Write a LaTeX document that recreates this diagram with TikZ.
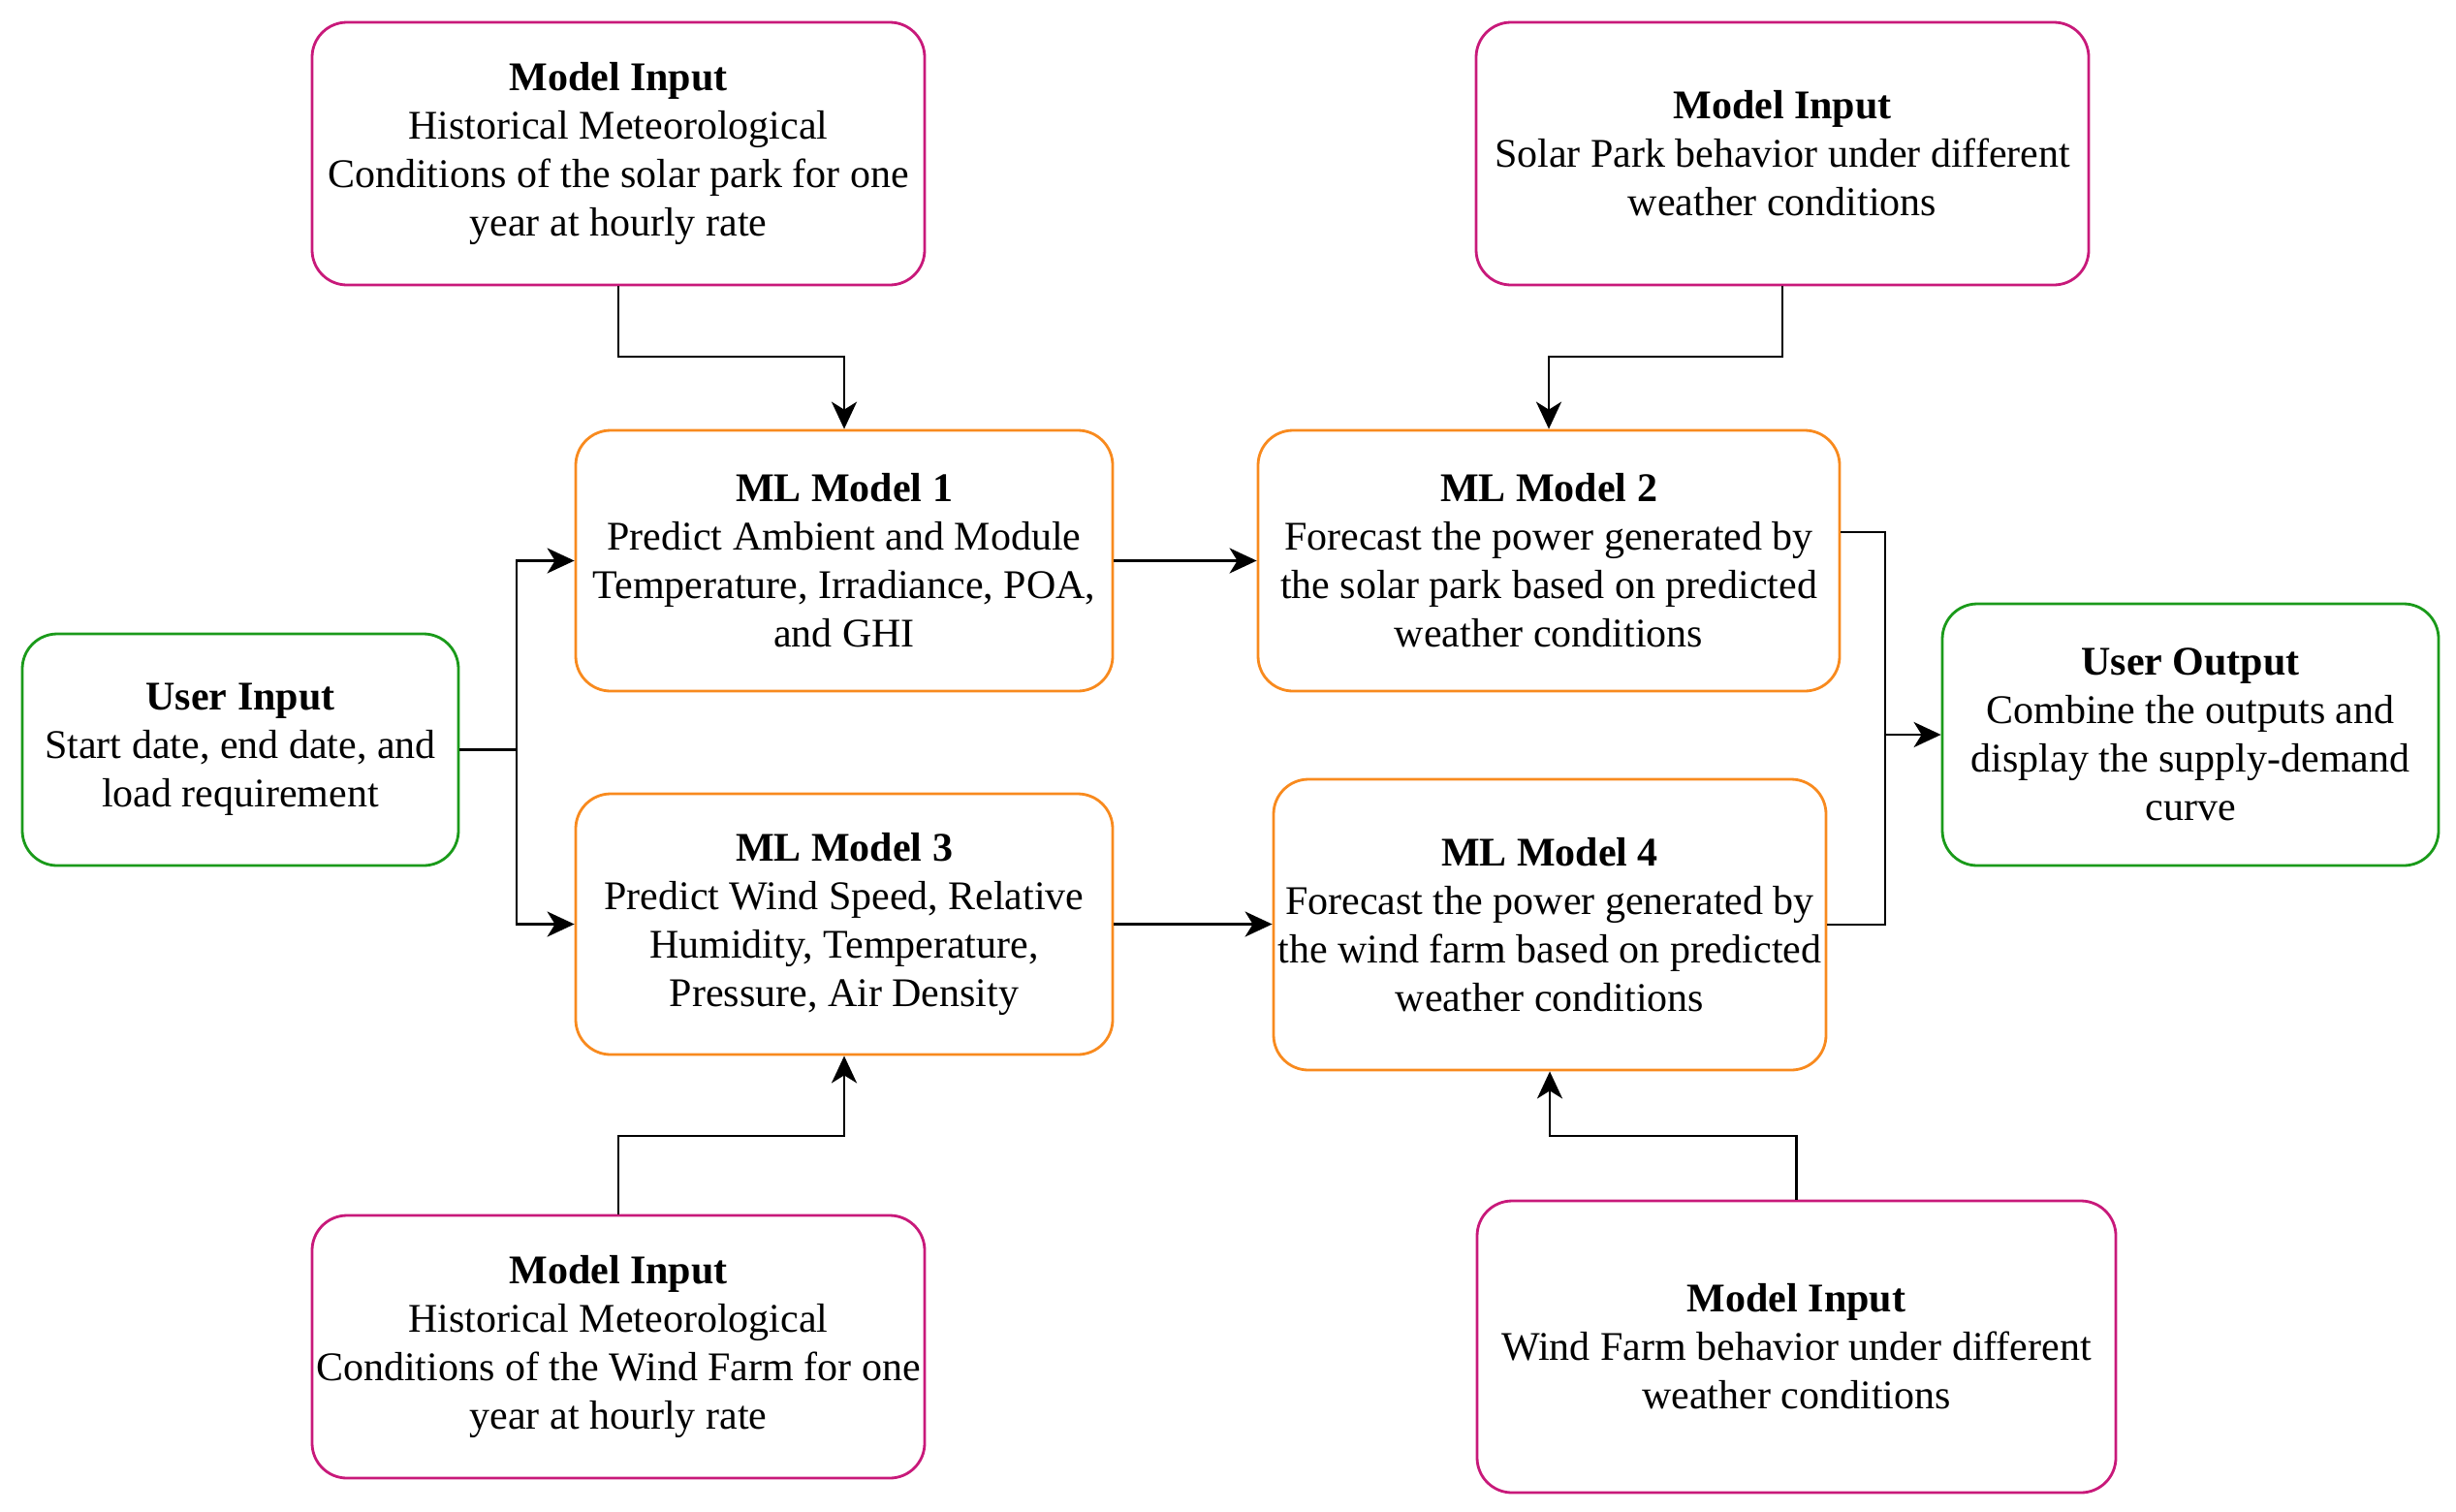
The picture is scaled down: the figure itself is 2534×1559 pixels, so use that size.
\documentclass[tikz,border=0pt]{standalone}
\usepackage{fontspec}
\setmainfont{Liberation Serif}
\usetikzlibrary{arrows.meta}
\definecolor{magb}{HTML}{C8197A}
\definecolor{orab}{HTML}{F88A1E}
\definecolor{grnb}{HTML}{1A9A1A}
\tikzset{
  box/.style={draw, line width=2.8pt, rounded corners=36pt, align=center, inner sep=0pt,
    font=\fontsize{42}{50}\selectfont, text=black},
  inbox/.style={box, draw=magb},
  mlbox/.style={box, draw=orab},
  usbox/.style={box, draw=grnb},
  conn/.style={line width=2.8pt, black},
  arr/.style={conn, -{Stealth[length=28pt, width=26pt, inset=8pt]}}
}
\begin{document}
\begin{tikzpicture}[x=1pt, y=-1pt]
\useasboundingbox (0,0) rectangle (2534,1559);
\node[inbox, minimum width=632pt, minimum height=271pt] (mi1) at (638,158.5)
  {\textbf{Model Input}\\Historical Meteorological\\Conditions of the solar park for one\\year at hourly rate};
\node[inbox, minimum width=632pt, minimum height=271pt] (mi2) at (1839,158.5)
  {\textbf{Model Input}\\Solar Park behavior under different\\weather conditions};
\node[mlbox, minimum width=554pt, minimum height=269pt] (ml1) at (871,578.5)
  {\textbf{ML Model 1}\\Predict Ambient and Module\\Temperature, Irradiance, POA,\\and GHI};
\node[mlbox, minimum width=600pt, minimum height=269pt] (ml2) at (1598,578.5)
  {\textbf{ML Model 2}\\Forecast the power generated by\\the solar park based on predicted\\weather conditions};
\node[usbox, minimum width=450pt, minimum height=239pt] (ui) at (248,773.5)
  {\textbf{User Input}\\Start date, end date, and\\load requirement};
\node[usbox, minimum width=512pt, minimum height=270pt] (uo) at (2260,758)
  {\textbf{User Output}\\Combine the outputs and\\display the supply-demand\\curve};
\node[mlbox, minimum width=554pt, minimum height=269pt] (ml3) at (871,953.5)
  {\textbf{ML Model 3}\\Predict Wind Speed, Relative\\Humidity, Temperature,\\Pressure, Air Density};
\node[mlbox, minimum width=570pt, minimum height=300pt] (ml4) at (1599,954)
  {\textbf{ML Model 4}\\Forecast the power generated by\\the wind farm based on predicted\\weather conditions};
\node[inbox, minimum width=632pt, minimum height=271pt] (mi3) at (638,1389.5)
  {\textbf{Model Input}\\Historical Meteorological\\Conditions of the Wind Farm for one\\year at hourly rate};
\node[inbox, minimum width=659pt, minimum height=301pt] (mi4) at (1853.5,1389.5)
  {\textbf{Model Input}\\Wind Farm behavior under different\\weather conditions};

\coordinate (j1) at (533,773.5);
\coordinate (j2) at (1945,758);

\draw[arr] (mi1.south) -- (mi1.south |- 0,368) -| (ml1.north);
\draw[arr] (mi2.south) -- (mi2.south |- 0,368) -| (ml2.north);
\draw[arr] (mi3.north) -- (mi3.north |- 0,1172) -| (ml3.south);
\draw[arr] (mi4.north) -- (mi4.north |- 0,1172) -| (ml4.south);

\draw[conn] (ui.east) -- (j1);
\draw[arr] (j1) |- (ml1.west);
\draw[arr] (j1) |- (ml3.west);

\draw[arr] (ml1.east) -- (ml2.west);
\draw[arr] (ml3.east) -- (ml3.east -| ml4.west);

\draw[conn] ([yshift=29.5pt]ml2.east) -| (j2 |- ml4.east) -- (ml4.east);
\draw[arr] (j2) -- (uo.west);
\end{tikzpicture}
\end{document}
